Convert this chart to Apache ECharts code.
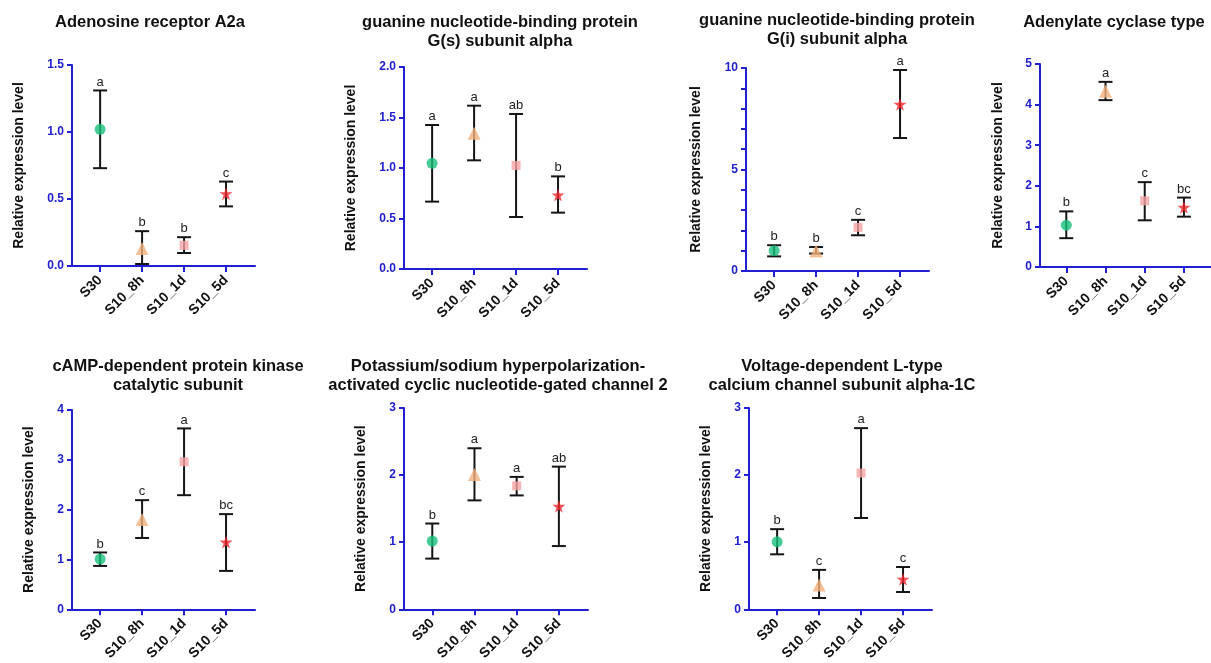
<!DOCTYPE html>
<html>
<head>
<meta charset="utf-8">
<script src="https://cdn.jsdelivr.net/npm/echarts@6/dist/echarts.min.js"></script>
<style>
html,body{margin:0;padding:0;background:#fff;}
#chart{width:1211px;height:663px;}
</style>
</head>
<body>
<div id="chart"></div>
<script>
const categories = ['S30', 'S10_8h', 'S10_1d', 'S10_5d'];

const a2aMean = [1.02, 0.13, 0.155, 0.54];
const a2aUpper = [1.31, 0.26, 0.215, 0.63];
const a2aLower = [0.73, 0.015, 0.097, 0.445];
const a2aLetters = ['a', 'b', 'b', 'c'];

const gsMean = [1.046, 1.343, 1.026, 0.733];
const gsUpper = [1.426, 1.617, 1.535, 0.917];
const gsLower = [0.667, 1.076, 0.515, 0.558];
const gsLetters = ['a', 'a', 'ab', 'b'];

const giMean = [1.0, 0.99, 2.15, 8.21];
const giUpper = [1.27, 1.18, 2.52, 9.9];
const giLower = [0.72, 0.86, 1.76, 6.55];
const giLetters = ['b', 'b', 'c', 'a'];

const acMean = [1.03, 4.33, 1.63, 1.47];
const acUpper = [1.37, 4.56, 2.09, 1.71];
const acLower = [0.71, 4.11, 1.15, 1.24];
const acLetters = ['b', 'a', 'c', 'bc'];

const pkaMean = [1.008, 1.80, 2.96, 1.35];
const pkaUpper = [1.14, 2.19, 3.63, 1.91];
const pkaLower = [0.87, 1.43, 2.29, 0.77];
const pkaLetters = ['b', 'c', 'a', 'bc'];

const hcnMean = [1.016, 2.008, 1.84, 1.534];
const hcnUpper = [1.278, 2.40, 1.973, 2.126];
const hcnLower = [0.755, 1.623, 1.697, 0.942];
const hcnLetters = ['b', 'a', 'a', 'ab'];

const cacMean = [1.006, 0.36, 2.03, 0.449];
const cacUpper = [1.194, 0.587, 2.70, 0.63];
const cacLower = [0.819, 0.168, 1.36, 0.257];
const cacLetters = ['b', 'c', 'a', 'c'];

const panelTitles = [
  'Adenosine receptor A2a',
  'guanine nucleotide-binding protein\nG(s) subunit alpha',
  'guanine nucleotide-binding protein\nG(i) subunit alpha',
  'Adenylate cyclase type',
  'cAMP-dependent protein kinase\ncatalytic subunit',
  'Potassium/sodium hyperpolarization-\nactivated cyclic nucleotide-gated channel 2',
  'Voltage-dependent L-type\ncalcium channel subunit alpha-1C'
];
const yMax = [1.5, 2.0, 10, 5, 4, 3, 3];
const yInterval = [0.5, 0.5, 5, 1, 1, 1, 1];
const yDecimals = [1, 1, 0, 0, 0, 0, 0];
const yName = 'Relative expression level';

const panels = [
  [a2aMean, a2aUpper, a2aLower, a2aLetters],
  [gsMean, gsUpper, gsLower, gsLetters],
  [giMean, giUpper, giLower, giLetters],
  [acMean, acUpper, acLower, acLetters],
  [pkaMean, pkaUpper, pkaLower, pkaLetters],
  [hcnMean, hcnUpper, hcnLower, hcnLetters],
  [cacMean, cacUpper, cacLower, cacLetters]
];

// layout (pixels)
const grids = [
  {left: 72, width: 183, top: 65, height: 201},
  {left: 404, width: 183, top: 67, height: 202},
  {left: 746, width: 183, top: 68, height: 203},
  {left: 1040, width: 183, top: 64, height: 203},
  {left: 72, width: 183, top: 410, height: 202},
  {left: 404, width: 184, top: 408, height: 202},
  {left: 749, width: 183, top: 408, height: 202}
];
const titlePos = [
  {x: 150, y: 13}, {x: 500, y: 13}, {x: 837, y: 11}, {x: 1114, y: 13},
  {x: 178, y: 357}, {x: 498, y: 357}, {x: 842, y: 357}
];
const nameGaps = [46, 46, 43, 35, 36, 36, 36];

const symbols = ['circle', 'triangle', 'rect',
  'path://M50,0 L61,35 L98,35 L68,57 L79,91 L50,70 L21,91 L32,57 L2,35 L39,35 Z'];
const symbolSizes = [11, 13, 9, 13];
const colors = ['#17c07a', '#f3b07a', '#f5a3a3', '#f2262d'];

const AXIS = '#2020d0';
const FONT = '"Liberation Sans", Arial, sans-serif';

const option = {
  animation: false,
  backgroundColor: '#fff',
  title: panelTitles.map((t, i) => ({
    text: t,
    left: titlePos[i].x,
    top: titlePos[i].y,
    padding: 0,
    textAlign: 'center',
    textStyle: {fontFamily: FONT, fontWeight: 'bold', fontSize: 16.5, color: '#111', lineHeight: 19}
  })),
  grid: grids.map(g => ({left: g.left, top: g.top, width: g.width, height: g.height, containLabel: false})),
  xAxis: grids.map((g, i) => ({
    type: 'value', gridIndex: i, min: -0.67, max: 3.69,
    splitLine: {show: false},
    axisLine: {show: true, onZero: false, lineStyle: {color: AXIS, width: 2}},
    axisTick: {show: true, customValues: [0, 1, 2, 3], length: 6, lineStyle: {color: AXIS, width: 2}},
    axisLabel: {
      customValues: [0, 1, 2, 3],
      formatter: v => categories[Math.round(v)],
      rotate: 45, margin: 12,
      fontFamily: FONT, fontWeight: 'bold', fontSize: 14, color: '#111'
    }
  })),
  yAxis: grids.map((g, i) => ({
    type: 'value', gridIndex: i, min: 0, max: yMax[i], interval: yInterval[i],
    name: yName, nameLocation: 'middle', nameGap: nameGaps[i], nameRotate: 90,
    nameTextStyle: {fontFamily: FONT, fontWeight: 'bold', fontSize: 14, color: '#111'},
    splitLine: {show: false},
    axisLine: {show: true, onZero: false, lineStyle: {color: AXIS, width: 2}},
    axisTick: {show: true, length: 5, lineStyle: {color: AXIS, width: 2}},
    minorTick: {show: i === 2, splitNumber: 5, length: 5, lineStyle: {color: AXIS, width: 2}},
    axisLabel: {
      formatter: v => v.toFixed(yDecimals[i]),
      margin: 8,
      fontFamily: FONT, fontWeight: 'bold', fontSize: 12, color: AXIS
    }
  })),
  series: []
};

panels.forEach((p, i) => {
  const [mean, upper, lower, letters] = p;
  option.series.push({
    type: 'custom',
    xAxisIndex: i, yAxisIndex: i,
    z: 2,
    data: categories.map((c, k) => [k, mean[k], lower[k], upper[k]]),
    renderItem: function (params, api) {
      const x = api.value(0);
      const pHi = api.coord([x, api.value(3)]);
      const pLo = api.coord([x, api.value(2)]);
      const hw = 7;
      const st = {stroke: '#151515', lineWidth: 2};
      return {
        type: 'group',
        children: [
          {type: 'line', shape: {x1: pHi[0], y1: pHi[1], x2: pLo[0], y2: pLo[1]}, style: st},
          {type: 'line', shape: {x1: pHi[0] - hw, y1: pHi[1], x2: pHi[0] + hw, y2: pHi[1]}, style: st},
          {type: 'line', shape: {x1: pLo[0] - hw, y1: pLo[1], x2: pLo[0] + hw, y2: pLo[1]}, style: st},
          {type: 'text', x: pHi[0], y: pHi[1] - 2,
            style: {text: letters[params.dataIndex], align: 'center', verticalAlign: 'bottom',
              fontFamily: FONT, fontSize: 13, fill: '#222'}}
        ]
      };
    }
  });
  option.series.push({
    type: 'scatter',
    xAxisIndex: i, yAxisIndex: i,
    z: 3,
    data: categories.map((c, k) => ({
      value: [k, mean[k]],
      symbol: symbols[k],
      symbolSize: symbolSizes[k],
      itemStyle: {color: colors[k]}
    }))
  });
});

const chart = echarts.init(document.getElementById('chart'), null, {renderer: 'canvas'});
chart.setOption(option);
</script>
</body>
</html>
